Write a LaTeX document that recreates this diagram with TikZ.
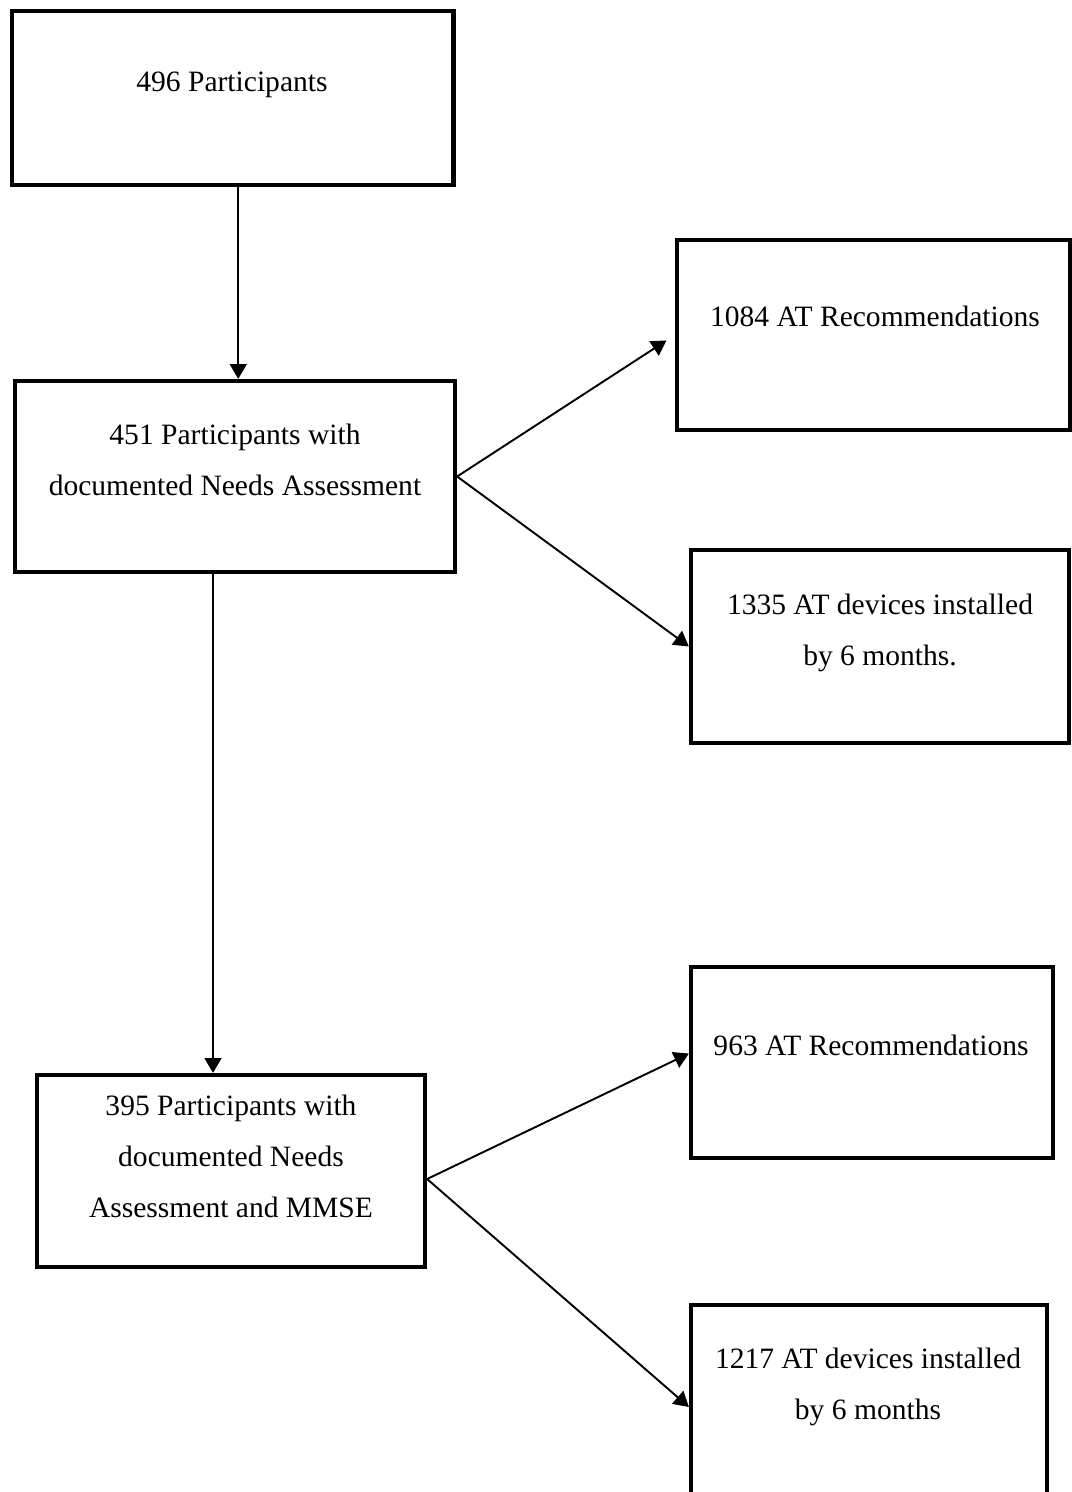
\documentclass[tikz,border=0pt]{standalone}
\usepackage{fontspec}
\setmainfont{Liberation Serif}
\usepackage{tikz}
\usetikzlibrary{calc}
\usetikzlibrary{arrows.meta}
\usetikzlibrary{positioning}

\begin{document}
\begin{tikzpicture}[x=0.4706pt,y=-0.4706pt,
    box/.style 2 args={draw, line width=2pt, inner sep=0pt,
      minimum width=#1*0.4706pt, minimum height=#2*0.4706pt},
    txt/.style={align=center, inner sep=0pt, font=\fontsize{13.9pt}{24pt}\selectfont},
    arr/.style={-{Triangle[width=8pt,length=7pt]}, line width=0.9pt}]
  \useasboundingbox (0,0) rectangle (1072,1492);
  \fill[white] (0,0) rectangle (1072,1492);
  % boxes
  \node[box={441.5}{173.4}] (part) at (232.75,98) {};
  \node[box={440}{191}] (needs) at (235,476.5) {};
  \node[box={393}{190}] (recA) at (873.5,335) {};
  \node[box={378}{193}] (instA) at (880,646.5) {};
  \node[box={362}{191}] (recB) at (872,1062.5) {};
  \node[box={388}{192}] (mmse) at (231,1171) {};
  \node[box={356}{192}] (instB) at (869,1401) {};
  % texts
  \node[txt] (tpart) at (232,85) {496 Participants};
  \node[txt] (tneeds) at (235,460) {451 Participants with\\documented Needs Assessment};
  \node[txt] (trecA) at (875,316) {1084 AT Recommendations};
  \node[txt] (tinstA) at (880,633) {1335 AT devices installed\\by 6 months.};
  \node[txt] (trecB) at (871,1045) {963 AT Recommendations};
  \node[txt] (tmmse) at (231,1156) {395 Participants with\\documented Needs\\Assessment and MMSE};
  \node[txt] (tinstB) at (868,1387) {1217 AT devices installed\\by 6 months};
  % arrows
  \path ($(part.south)+(5.5,0)$) coordinate (p1);
  \path ($(needs.south)+(-22,0)$) coordinate (p2);
  \draw[arr] (p1) -- (p1 |- needs.north);
  \draw[arr] (p2) -- (p2 |- mmse.north);
  \draw[arr, shorten >=4.7pt] (needs.east) -- (recA.west);
  \draw[arr] (needs.east) -- (instA.west);
  \draw[arr] ($(mmse.east)+(0,8)$) -- ($(recB.west)+(0,-9)$);
  \draw[arr] ($(mmse.east)+(0,8)$) -- ($(instB.west)+(0,6)$);
\end{tikzpicture}
\end{document}
